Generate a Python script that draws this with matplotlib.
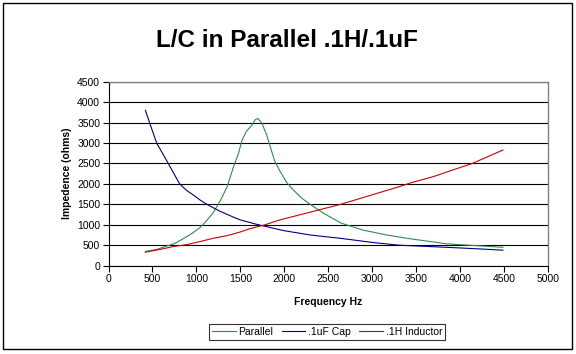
import matplotlib
matplotlib.use("Agg")
import matplotlib.pyplot as plt
from matplotlib.patches import Rectangle

# values
par_hz = [420, 550, 660, 750, 850, 950, 1040, 1100, 1190, 1270, 1350, 1420,
          1480, 1520, 1570, 1630, 1670, 1700, 1745, 1800, 1850, 1890, 1950,
          2030, 2110, 2200, 2290, 2450, 2650, 2900, 3170, 3430, 3600, 3850,
          4230, 4490]
par_ohms = [350, 400, 480, 540, 660, 790, 930, 1060, 1290, 1580, 1930, 2400,
            2750, 3070, 3290, 3430, 3570, 3600, 3490, 3200, 2850, 2570, 2320,
            2030, 1840, 1650, 1510, 1280, 1040, 870, 750, 660, 610, 535,
            485, 450]

cap_hz = [420, 470, 550, 620, 680, 750, 810, 890, 965, 1040, 1120, 1270,
          1420, 1500, 1690, 1990, 2300, 2640, 3020, 3320, 3850, 4230, 4490]
cap_ohms = [3800, 3480, 2990, 2730, 2500, 2230, 2000, 1840, 1730, 1610, 1500,
            1330, 1190, 1120, 1010, 860, 750, 670, 565, 500, 450, 410, 380]

ind_hz = [420, 590, 740, 890, 1040, 1190, 1350, 1500, 1610, 1780, 1950,
          2640, 3320, 3430, 3700, 3890, 4140, 4490]
ind_ohms = [330, 400, 470, 515, 590, 670, 735, 825, 905, 1000, 1120,
            1500, 1940, 2020, 2180, 2320, 2500, 2830]

x_ticks = list(range(0, 5001, 500))
y_ticks = list(range(0, 4501, 500))

plt.rcParams['font.family'] = ['Liberation Sans', 'DejaVu Sans']

fig = plt.figure(figsize=(5.76, 3.54), dpi=100)
fig.patches.append(Rectangle((3 / 576, 5 / 354), 569 / 576, 346 / 354,
                             transform=fig.transFigure, fill=False,
                             edgecolor='black', linewidth=1.0))

ax = fig.add_axes([0.1884, 0.2494, 0.7625, 0.5198])
ax.plot(par_hz, par_ohms, color='#2e8b57', linewidth=0.8, label='Parallel')
ax.plot(cap_hz, cap_ohms, color='#000080', linewidth=0.8, label='.1uF Cap')
ax.plot(ind_hz, ind_ohms, color='#cc0000', linewidth=0.8, label='.1H Inductor')

ax.set_xlim(0, 5000)
ax.set_ylim(0, 4500)
ax.set_xticks(x_ticks)
ax.set_yticks(y_ticks)
ax.tick_params(labelsize=7.5, length=4, width=0.8, direction='out', pad=2)
ax.yaxis.grid(True, color='black', linewidth=0.8)
ax.set_axisbelow(True)
for side in ('top', 'right'):
    ax.spines[side].set_color('#808080')
    ax.spines[side].set_linewidth(1.0)
for side in ('left', 'bottom'):
    ax.spines[side].set_color('black')
    ax.spines[side].set_linewidth(0.8)

ax.set_xlabel('Frequency Hz', fontsize=7.5, fontweight='bold', labelpad=9)
ax.set_ylabel('Impedence (ohms)', fontsize=7.5, fontweight='bold', labelpad=4)

fig.text(0.498, 0.887, 'L/C in Parallel .1H/.1uF', ha='center', va='center',
         fontsize=17.5, fontweight='bold')

leg = fig.legend(loc='center', bbox_to_anchor=(327 / 576, 1 - 332 / 354),
                 ncol=3, fontsize=7.5, frameon=True, fancybox=False,
                 handlelength=2.3, handletextpad=0.25, columnspacing=0.8,
                 borderpad=0.3)
leg.get_frame().set_edgecolor('black')
leg.get_frame().set_linewidth(0.8)

fig.savefig('out.png', dpi=100)
